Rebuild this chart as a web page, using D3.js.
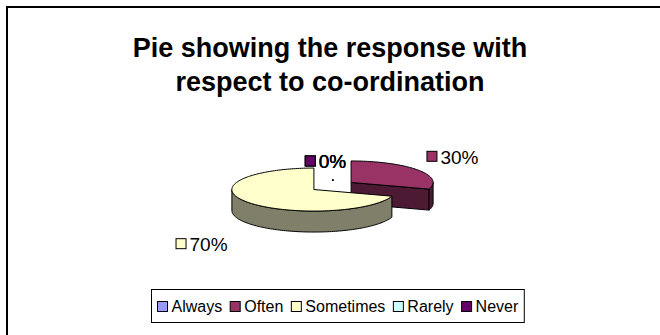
<!DOCTYPE html>
<html>
<head>
<meta charset="utf-8">
<script src="https://cdn.jsdelivr.net/npm/d3@7"></script>
<style>
  html, body { margin: 0; padding: 0; background: #fff; }
  svg { display: block; }
  text { font-family: Arial, "Liberation Sans", sans-serif; fill: #000; }
</style>
</head>
<body>
<svg id="chart" width="660" height="335"></svg>
<script>
// Survey responses on co-ordination (percent of respondents)
const categories = ["Always", "Often", "Sometimes", "Rarely", "Never"];
const values = [0, 30, 70, 0, 0];
const topColors = ["#9999FF", "#993366", "#FFFFCC", "#CCFFFF", "#660066"];
const sideColors = ["#5C5C99", "#4D1A33", "#80806A", "#7A9999", "#330033"];
const titleLines = ["Pie showing the response with", "respect to co-ordination"];

const svg = d3.select("#chart");

// outer chart frame (runs off the right and bottom edges)
svg.append("rect")
  .attr("x", 7).attr("y", 7).attr("width", 700).attr("height", 400)
  .attr("fill", "#fff").attr("stroke", "#000").attr("stroke-width", 2);

// title
const title = svg.append("text")
  .attr("text-anchor", "middle")
  .attr("font-weight", "bold")
  .attr("font-size", 27);
titleLines.forEach((t, i) => {
  title.append("tspan").attr("x", 330).attr("y", 57 + i * 34).text(t);
});

// 3-D pie geometry
const cx = 332.5, cy = 186;          // pie centre (top face)
const rx = 82, ry = 21.5, depth = 21; // ellipse radii and extrusion
const explode = 23;                   // slice offset in radius units
const k = ry / rx;

const pie = d3.pie().value(d => d.value).sort(null).startAngle(0).endAngle(2 * Math.PI);
const data = categories.map((c, i) => ({ name: c, value: values[i], i }));
const arcs = pie(data);

const pt = (ox, oy, a, dz = 0) => [ox + rx * Math.sin(a), oy - ry * Math.cos(a) + dz];

arcs.forEach(d => {
  const mid = (d.startAngle + d.endAngle) / 2;
  d.mid = mid;
  d.ox = cx + explode * Math.sin(mid);
  d.oy = cy - explode * k * Math.cos(mid);
});

function arcPath(p, ox, oy, a0, a1, dz, steps) {
  const n = Math.max(2, Math.ceil(steps));
  for (let s = 0; s <= n; s++) {
    const a = a0 + (a1 - a0) * s / n;
    const [x, y] = pt(ox, oy, a, dz);
    p.lineTo(x, y);
  }
}

function topFace(d) {
  const p = d3.path();
  p.moveTo(d.ox, d.oy);
  arcPath(p, d.ox, d.oy, d.startAngle, d.endAngle, 0, (d.endAngle - d.startAngle) * 40);
  p.closePath();
  return p.toString();
}

// visible outer rim: part of the slice lying in the front half (pi/2 .. 3pi/2)
function rimFace(d) {
  const a0 = Math.max(d.startAngle, Math.PI / 2);
  const a1 = Math.min(d.endAngle, 3 * Math.PI / 2);
  if (a1 <= a0) return null;
  const p = d3.path();
  const [sx, sy] = pt(d.ox, d.oy, a0);
  p.moveTo(sx, sy);
  arcPath(p, d.ox, d.oy, a0, a1, 0, (a1 - a0) * 40);
  arcPath(p, d.ox, d.oy, a1, a0, depth, (a1 - a0) * 40);
  p.closePath();
  return p.toString();
}

// radial cut face at angle a (visible when it faces the viewer)
function cutFace(d, a) {
  const [x, y] = pt(d.ox, d.oy, a);
  const p = d3.path();
  p.moveTo(d.ox, d.oy);
  p.lineTo(x, y);
  p.lineTo(x, y + depth);
  p.lineTo(d.ox, d.oy + depth);
  p.closePath();
  return p.toString();
}

const g = svg.append("g");
// draw back-to-front: the smaller right slice first, the big front slice last
const drawOrder = arcs.filter(d => d.value > 0).sort((a, b) => a.value - b.value);
drawOrder.forEach(d => {
  const sg = g.append("g");
  if (Math.sin(d.endAngle) > 0.01 && Math.cos(d.endAngle) < 0.99) {
    sg.append("path").attr("d", cutFace(d, d.endAngle))
      .attr("fill", sideColors[d.data.i]).attr("stroke", "#000").attr("stroke-width", 1);
  }
  if (Math.sin(d.startAngle) < -0.01) {
    sg.append("path").attr("d", cutFace(d, d.startAngle))
      .attr("fill", sideColors[d.data.i]).attr("stroke", "#000").attr("stroke-width", 1);
  }
  const r = rimFace(d);
  if (r) sg.append("path").attr("d", r)
    .attr("fill", sideColors[d.data.i]).attr("stroke", "#000").attr("stroke-width", 1);
  sg.append("path").attr("d", topFace(d))
    .attr("fill", topColors[d.data.i]).attr("stroke", "#000").attr("stroke-width", 1);
});

// zero-size slices collapse to a point at their exploded centre
arcs.filter(d => d.value === 0).forEach(d => {
  g.append("rect").attr("x", d.ox - 0.5).attr("y", d.oy - 0.5)
    .attr("width", 1.5).attr("height", 1.5).attr("fill", "#000");
});

// data labels: coloured key square + percentage
const fmt = v => v + "%";
const labelSize = 19, sq = 10;
function label(d) {
  const s = Math.sin(d.mid), c = Math.cos(d.mid);
  const [ax, ay] = pt(d.ox, d.oy, d.mid, c < 0 ? depth : 0);
  const lg = g.append("g");
  lg.append("rect").attr("x", 0.5).attr("y", -sq - 2.5).attr("width", sq).attr("height", sq)
    .attr("fill", topColors[d.data.i]).attr("stroke", "#000").attr("stroke-width", 1);
  const t = lg.append("text").attr("x", sq + 4).attr("y", 0).attr("font-size", labelSize).text(fmt(d.value));
  const boxW = sq + 4 + t.node().getComputedTextLength();
  let x, y;
  if (d.value === 0) {           // zero slices: label sits just above the pie
    x = ax - boxW / 2 - 7;
    y = ay + 10;
  } else if (s > 0) {            // right side
    x = ax + 9;
    y = ay - 6;
  } else {                       // left side
    x = ax - 20 - boxW;
    y = ay + 28;
  }
  lg.attr("transform", `translate(${x},${y})`);
}
arcs.forEach(label);

// legend
const legend = svg.append("g");
const lgSize = 16;
const items = legend.selectAll("g.item").data(categories).join("g").attr("class", "item");
items.append("rect").attr("width", sq).attr("height", sq)
  .attr("fill", (d, i) => topColors[i]).attr("stroke", "#000").attr("stroke-width", 1);
items.append("text").attr("font-size", lgSize).attr("x", sq + 4).attr("y", sq).text(d => d);
let lx = 0;
items.each(function () {
  d3.select(this).attr("transform", `translate(${lx},0)`);
  lx += sq + 4 + this.querySelector("text").getComputedTextLength() + 8;
});
const legW = lx - 8 + 12;
const legX = 151, legY = 289, legH = 33;
legend.insert("rect", ":first-child")
  .attr("x", -6).attr("y", -12).attr("width", legW).attr("height", legH)
  .attr("fill", "#fff").attr("stroke", "#000").attr("stroke-width", 1);
legend.attr("transform", `translate(${legX + 6.5},${legY + 12.5})`);
</script>
</body>
</html>
